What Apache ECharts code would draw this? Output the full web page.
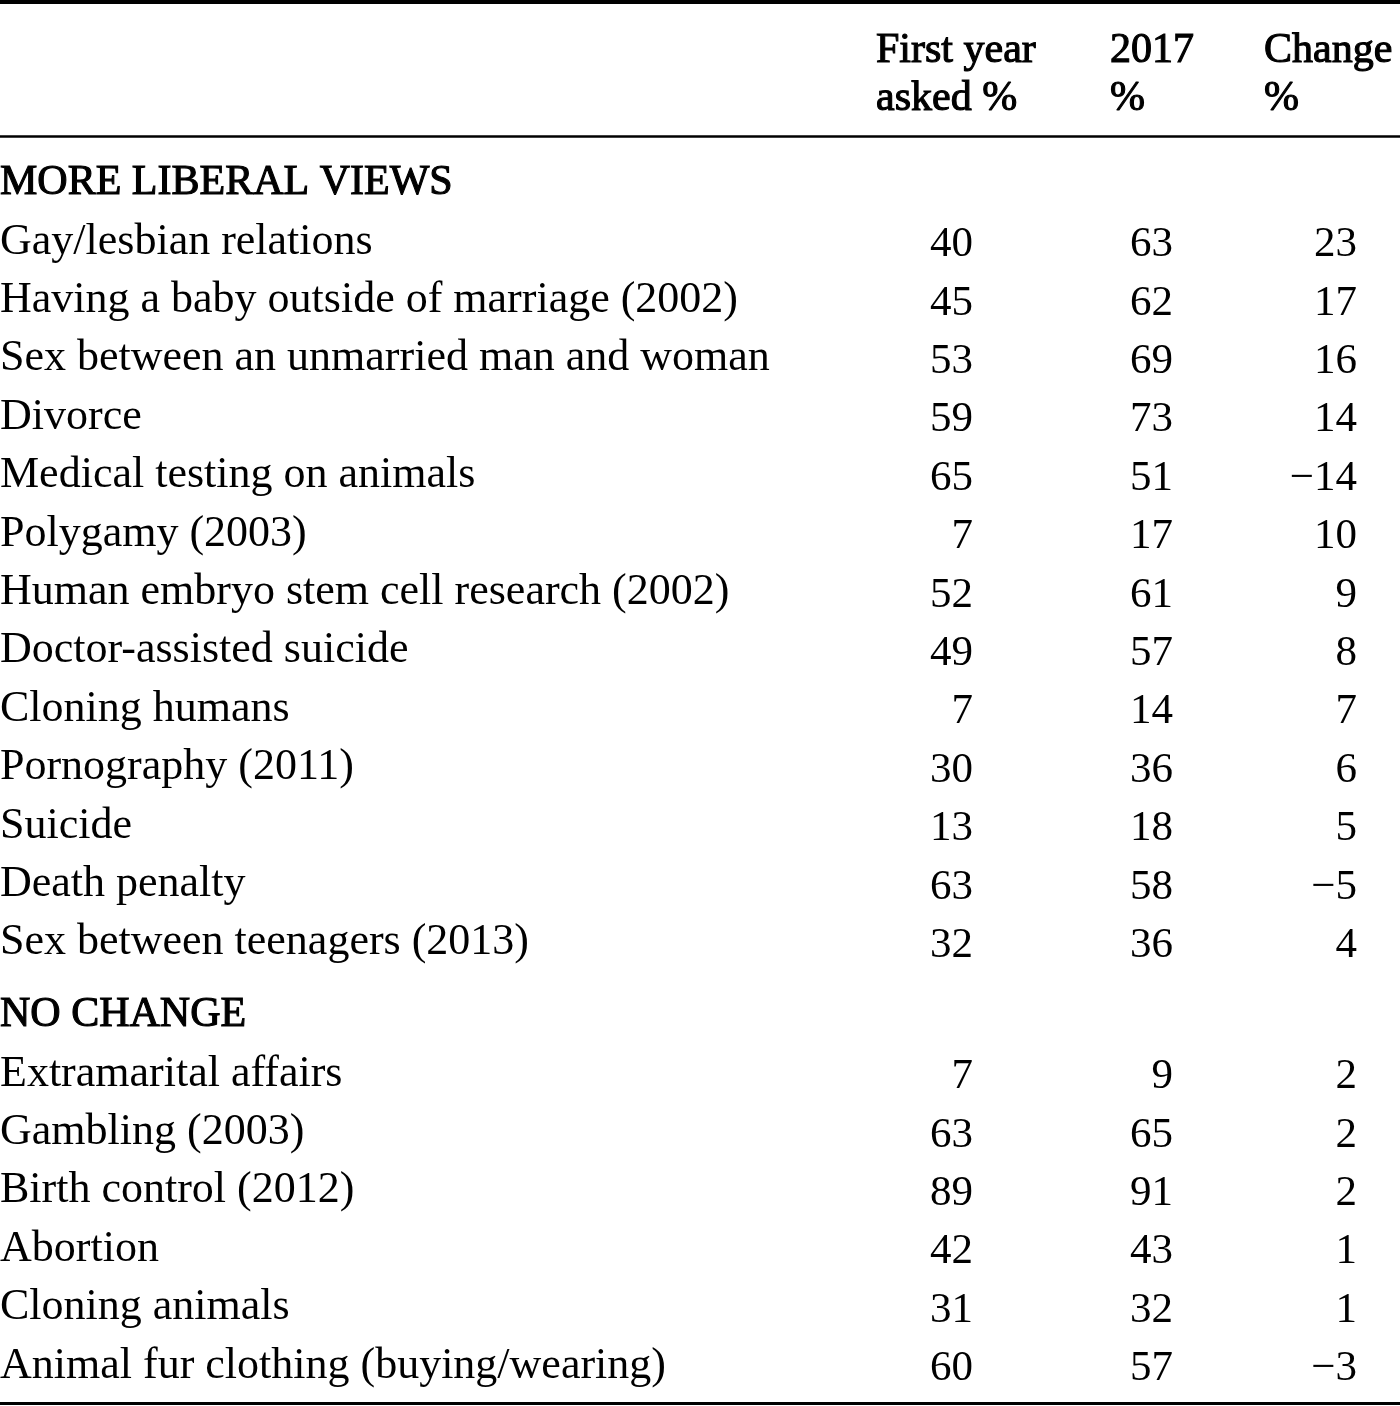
<!DOCTYPE html>
<html>
<head>
<meta charset="utf-8">
<script src="https://cdn.jsdelivr.net/npm/echarts@6/dist/echarts.min.js"></script>
<style>
html,body{margin:0;padding:0;background:#fff;}
#chart{width:1400px;height:1406px;}
</style>
</head>
<body>
<div id="chart"></div>
<script>
// ---- data ----
const headerCols = [["First year", "asked %"], ["2017", "%"], ["Change", "%"]];
const section1Title = "MORE LIBERAL VIEWS";
const section1Labels = [
  "Gay/lesbian relations",
  "Having a baby outside of marriage (2002)",
  "Sex between an unmarried man and woman",
  "Divorce",
  "Medical testing on animals",
  "Polygamy (2003)",
  "Human embryo stem cell research (2002)",
  "Doctor-assisted suicide",
  "Cloning humans",
  "Pornography (2011)",
  "Suicide",
  "Death penalty",
  "Sex between teenagers (2013)"
];
const section1First = [40, 45, 53, 59, 65, 7, 52, 49, 7, 30, 13, 63, 32];
const section1Y2017 = [63, 62, 69, 73, 51, 17, 61, 57, 14, 36, 18, 58, 36];
const section1Change = [23, 17, 16, 14, -14, 10, 9, 8, 7, 6, 5, -5, 4];

const section2Title = "NO CHANGE";
const section2Labels = [
  "Extramarital affairs",
  "Gambling (2003)",
  "Birth control (2012)",
  "Abortion",
  "Cloning animals",
  "Animal fur clothing (buying/wearing)"
];
const section2First = [7, 63, 89, 42, 31, 60];
const section2Y2017 = [9, 65, 91, 43, 32, 57];
const section2Change = [2, 2, 2, 1, 1, -3];

// ---- layout (pixel-space axes) ----
const W = 1400, H = 1406;
const FONT = "'Liberation Serif', 'DejaVu Serif', serif";
const FS_LABEL = 44, FS_NUM = 43, FS_SEC = 42, FS_HEAD = 42;
const rowStep = 58.4;
const sec1Y = 183, sec1RowY = 242;
const sec2Y = 1015, sec2RowY = 1074;
const headerY = [51, 99];
const headerX = [876, 1110, 1264];
const numRightX = [973, 1173, 1357];
const numDy = 3;

function fmt(v) { return v < 0 ? '\u2212' + Math.abs(v) : String(v); }

const labelData = [];
const boldData = [];
const numData = [[], [], []];

boldData.push([0, sec1Y, section1Title]);
section1Labels.forEach((l, i) => {
  const y = sec1RowY + i * rowStep;
  labelData.push([0, y, l]);
  [section1First, section1Y2017, section1Change].forEach((arr, c) => {
    numData[c].push([numRightX[c], y + numDy, fmt(arr[i])]);
  });
});
boldData.push([0, sec2Y, section2Title]);
section2Labels.forEach((l, i) => {
  const y = sec2RowY + i * rowStep;
  labelData.push([0, y, l]);
  [section2First, section2Y2017, section2Change].forEach((arr, c) => {
    numData[c].push([numRightX[c], y + numDy, fmt(arr[i])]);
  });
});
const headerData = [];
headerCols.forEach((lines, c) => {
  lines.forEach((t, r) => headerData.push([headerX[c], headerY[r], t]));
});

function textSeries(data, pos, size, semibold) {
  const label = {
    show: true,
    position: pos,
    distance: 0,
    formatter: p => p.data[2],
    fontFamily: FONT,
    fontSize: size,
    fontWeight: 'normal',
    color: '#000',
    opacity: 1
  };
  if (semibold) {
    label.textBorderColor = '#000';
    label.textBorderWidth = 1.1;
  }
  return {
    type: 'scatter',
    data: data,
    symbolSize: 0,
    silent: true,
    itemStyle: { opacity: 1 },
    label: label
  };
}

const series = [
  textSeries(labelData, 'right', FS_LABEL, false),
  textSeries(boldData, 'right', FS_SEC, true),
  textSeries(headerData, 'right', FS_HEAD, true),
  textSeries(numData[0], 'left', FS_NUM, false),
  textSeries(numData[1], 'left', FS_NUM, false),
  textSeries(numData[2], 'left', FS_NUM, false),
  {
    type: 'scatter', data: [], silent: true,
    markLine: {
      silent: true, symbol: 'none', label: { show: false },
      data: [
        { yAxis: 2, lineStyle: { width: 4, color: '#000', type: 'solid', opacity: 1 } },
        { yAxis: 136.5, lineStyle: { width: 2.5, color: '#000', type: 'solid', opacity: 1 } },
        { yAxis: 1403, lineStyle: { width: 3, color: '#000', type: 'solid', opacity: 1 } }
      ]
    }
  }
];

const chart = echarts.init(document.getElementById('chart'));
chart.setOption({
  animation: false,
  backgroundColor: '#fff',
  grid: { left: 0, right: 0, top: 0, bottom: 0 },
  xAxis: { type: 'value', min: 0, max: W, show: false },
  yAxis: { type: 'value', min: 0, max: H, inverse: true, show: false },
  series: series
});
</script>
</body>
</html>
